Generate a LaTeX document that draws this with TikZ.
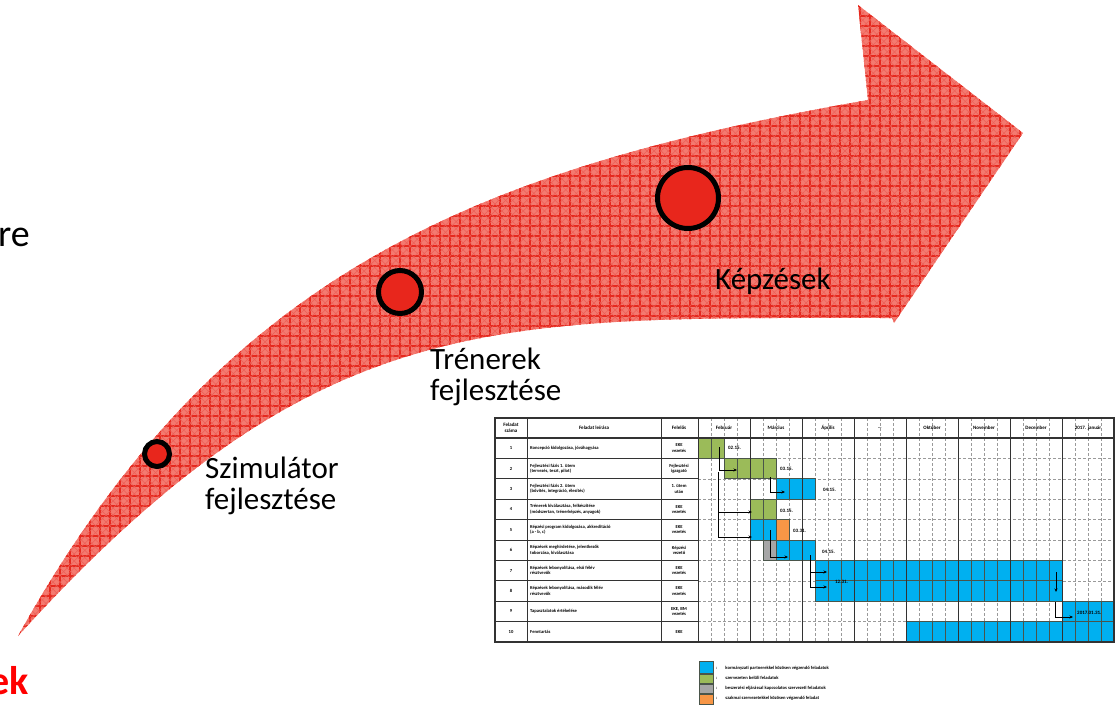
\documentclass[tikz,border=0pt]{standalone}
\usepackage{fontspec}
\setmainfont{Carlito}
\usetikzlibrary{arrows.meta,patterns.meta,calc}
\definecolor{arrowPink}{HTML}{F47A70}
\definecolor{arrowRed}{HTML}{E6281E}
\definecolor{dotRed}{HTML}{E8261C}
\definecolor{ganttBlue}{HTML}{00B0F0}
\definecolor{ganttGreen}{HTML}{9BBB59}
\definecolor{ganttGray}{HTML}{A6A6A6}
\definecolor{ganttOrange}{HTML}{F79646}
\definecolor{cellBd}{HTML}{4A554A}
\definecolor{gridGray}{HTML}{9A9A9A}
\tikzset{
  milestone/.style={circle, draw=black, line width=5pt, fill=dotRed, inner sep=0pt},
  steptext/.style={font=\fontsize{31}{31}\selectfont, align=left, anchor=north west, inner sep=0pt},
  cuttext/.style={font=\fontsize{38}{40}\selectfont, anchor=base east, inner sep=0pt},
  tabhead/.style={font=\fontsize{5}{5.5}\selectfont\bfseries, align=center, inner sep=0pt},
  tabtext/.style={font=\fontsize{4.6}{5.4}\selectfont\bfseries, align=left, inner sep=0pt},
  barend/.style={font=\fontsize{5}{5.5}\selectfont\bfseries, anchor=west, inner sep=0pt},
  legtext/.style={font=\fontsize{4.6}{5}\selectfont\bfseries, anchor=west, inner sep=0pt},
  cell/.style={draw=cellBd, line width=0.8pt},
  dep/.style={-{Stealth[length=3.5pt,width=3pt]}, line width=0.9pt, draw=black},
  weekline/.style={gridGray, densely dashed, line width=0.5pt},
  rule/.style={black!80, line width=0.9pt}
}
\newcommand{\ganttbar}[4]{% row, first week, last week, colour
  \foreach \w in {#2,...,#3}
    \filldraw[cell, fill=#4] ({698+(\w-1)*13},{438+(#1-1)*20.4}) rectangle ++(13,20.4);
}

\begin{document}
\begin{tikzpicture}[x=1pt, y=-1pt]
  \useasboundingbox (0,0) rectangle (1115,706);
  \clip (0,0) rectangle (1115,706);

  % --- the big curved arrow
  \coordinate (tail)    at (18,636);
  \coordinate (upEnd)   at (868,100);
  \coordinate (barbUp)  at (858,5);
  \coordinate (tip)     at (1023,133);
  \coordinate (barbLow) at (894,323);
  \coordinate (lowEnd)  at (892,318);
  \path[fill=arrowPink,
        postaction={pattern={Lines[angle=0,distance=10pt,line width=1.3pt]}, pattern color=arrowRed},
        postaction={pattern={Lines[angle=90,distance=10pt,line width=1.3pt]}, pattern color=arrowRed},
        postaction={pattern={Lines[angle=45,distance=5pt,line width=0.5pt]}, pattern color=arrowRed!75},
        postaction={pattern={Lines[angle=-45,distance=5pt,line width=0.5pt]}, pattern color=arrowRed!75}]
    (tail) .. controls (218,277) and (468,170) .. (upEnd)
    -- (barbUp) -- (tip) -- (barbLow) -- (lowEnd)
    .. controls (492,318) and (318,306) .. (tail) -- cycle;

  % --- milestones and their texts
  \node[milestone, minimum size=25pt] (mSim)  at (157,454) {};
  \node[milestone, minimum size=43pt] (mTren) at (400,292) {};
  \node[milestone, minimum size=61pt] (mKep)  at (688,198) {};

  \node[steptext] (lblSim)  at (205,457) {Szimulátor\\fejlesztése};
  \node[steptext] (lblTren) at (430,348) {Trénerek\\fejlesztése};
  \node[steptext] (lblKep)  at (715,268) {Képzések};

  % texts cut by the left edge
  \node[cuttext] (cutRe) at (30,246) {re};
  \node[cuttext, text=red, font=\fontsize{40}{42}\selectfont\bfseries] (cutEk) at (29,694) {ek};

  % --- gantt chart: grid
  \fill[white] (495,418) rectangle (1115,642);
  \foreach \w in {1,...,31}
    \draw[weekline] ({698+\w*13},418) -- ({698+\w*13},642);
  \foreach \r in {1,...,9}
    \draw[weekline] (698,{438+\r*20.4}) -- (1115,{438+\r*20.4});
  \foreach \r in {1,...,9}
    \draw[rule] (495,{438+\r*20.4}) -- (698,{438+\r*20.4});

  % --- gantt chart: bars
  \ganttbar{1}{1}{2}{ganttGreen}
  \ganttbar{2}{3}{6}{ganttGreen}
  \ganttbar{3}{7}{9}{ganttBlue}
  \ganttbar{4}{5}{6}{ganttGreen}
  \ganttbar{5}{5}{6}{ganttBlue}
  \ganttbar{5}{7}{7}{ganttOrange}
  \ganttbar{6}{6}{6}{ganttGray}
  \ganttbar{6}{7}{9}{ganttBlue}
  \ganttbar{7}{10}{28}{ganttBlue}
  \ganttbar{8}{10}{28}{ganttBlue}
  \ganttbar{9}{29}{32}{ganttBlue}
  \ganttbar{10}{17}{32}{ganttBlue}

  % --- gantt chart: rules
  \foreach \m in {0,...,7}
    \draw[rule] ({698+\m*52},418) -- ({698+\m*52},642);
  \draw[rule] (527,418) -- (527,642);
  \draw[rule] (661,418) -- (661,642);
  \draw[rule, line width=1.2pt] (495,438) -- (1115,438);
  \draw[rule, line width=1.2pt] (495,418) rectangle (1114,642);

  % --- gantt chart: header
  \node[tabhead] (hNum)  at (511,428) {Feladat\\száma};
  \node[tabhead] (hDesc) at (594,428) {Feladat leírása};
  \node[tabhead] (hResp) at (679,428) {Felelős};
  \foreach \m/\name in {0/Február,1/Március,2/Április,3/{\ldots},4/Október,5/November,6/December,7/2017. január}
    \node[tabhead] (month\m) at ({724+\m*52},428) {\name};

  % --- gantt chart: rows
  \foreach \r/\desc/\resp in {
      1/{Koncepció kidolgozása, jóváhagyása}/{EKE\\vezetés},
      2/{Fejlesztési fázis 1. ütem\\(tervezés, teszt, pilot)}/{Fejlesztési\\igazgató},
      3/{Fejlesztési fázis 2. ütem\\(bővítés, integráció, élesítés)}/{1. ütem\\után},
      4/{Trénerek kiválasztása, felkészítése\\(módszertan, trénerképzés, anyagok)}/{EKE\\vezetés},
      5/{Képzési program kidolgozása, akkreditáció\\(a - b, c)}/{EKE\\vezetés},
      6/{Képzések meghirdetése, jelentkezők\\toborzása, kiválasztása}/{Képzési\\vezető},
      7/{Képzések lebonyolítása, első félév\\résztvevők}/{EKE\\vezetés},
      8/{Képzések lebonyolítása, második félév\\résztvevők}/{EKE\\vezetés},
      9/{Tapasztalatok értékelése}/{EKE, BM\\vezetés},
      10/{Fenntartás}/{EKE}}{
    \node[tabtext, align=center] (num\r)  at (511,{448.2+(\r-1)*20.4}) {\r};
    \node[tabtext, anchor=west]  (desc\r) at (530,{448.2+(\r-1)*20.4}) {\desc};
    \node[tabtext, align=center] (resp\r) at (679,{448.2+(\r-1)*20.4}) {\resp};
  }

  % --- gantt chart: end dates
  \node[barend] (end1) at (728,448) {02.15.};
  \node[barend] (end2) at (780,469) {03.15.};
  \node[barend] (end3) at (823,490) {04.15.};
  \node[barend] (end4) at (780,511) {03.15.};
  \node[barend] (end5) at (793,531) {03.31.};
  \node[barend] (end6) at (822,552) {04.15.};
  \node[barend] (end7) at (835,582) {12.31.};
  \node[barend] (end9) at (1077,613) {2017.01.31.};

  % --- gantt chart: dependencies
  \draw[dep] (719,447) |- (737,470);
  \draw[dep] (718,472) |- (752,512);
  \draw[dep] (718,512) |- (752,537);
  \draw[dep] (770,477) |- (785,492);
  \draw[dep] (770,530) |- (788,557);
  \draw[dep] (810,555) |- (827,572);
  \draw[dep] (810,572) |- (827,587);
  \draw[dep] (1056,572) -- (1056,592);
  \draw[dep] (1055,602) |- (1073,617);

  % --- legend
  \filldraw[cell, fill=ganttBlue]   (699,661) rectangle (713,673);
  \filldraw[cell, fill=ganttGreen]  (699,674) rectangle (713,683);
  \filldraw[cell, fill=ganttGray]   (699,684) rectangle (713,693);
  \filldraw[cell, fill=ganttOrange] (699,694) rectangle (713,704);
  \foreach \i/\y/\txt in {1/668/{kormányzati partnerekkel közösen végzendő feladatok},
                          2/678/{szervezeten belüli feladatok},
                          3/688/{beszerzési eljárással kapcsolatos szervezeti feladatok},
                          4/698/{szakmai szervezetekkel közösen végzendő feladat}}
    \node[legtext] (legT\i) at (716,\y) {:\hspace{8pt}\txt};
\end{tikzpicture}
\end{document}
